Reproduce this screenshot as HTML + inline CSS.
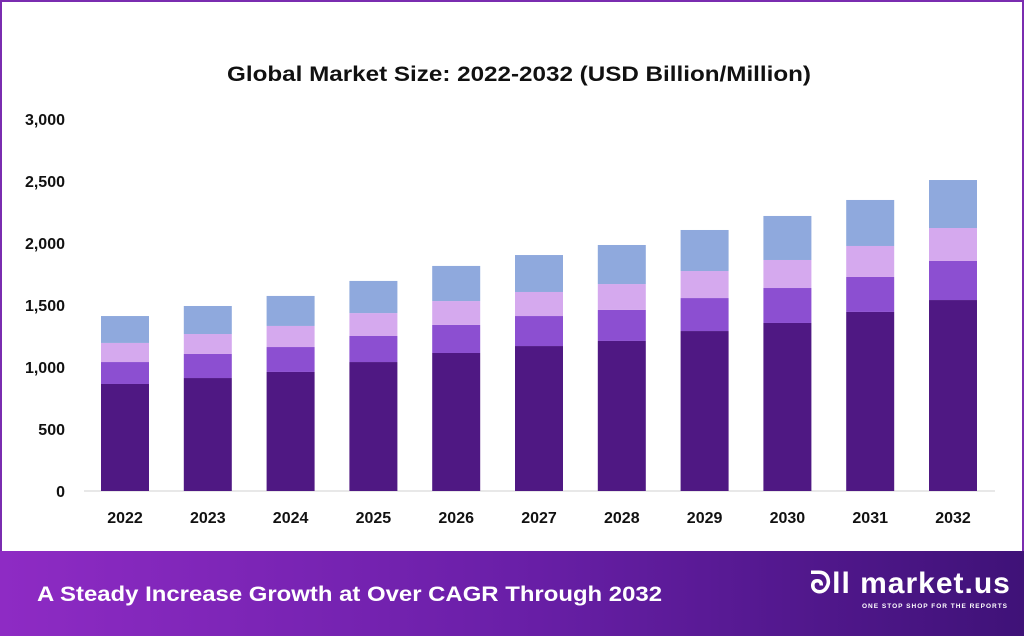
<!DOCTYPE html>
<html><head><meta charset="utf-8"><style>
html,body{margin:0;padding:0;width:1024px;height:636px;overflow:hidden;background:#fff;font-family:"Liberation Sans",sans-serif}
#frame{position:absolute;left:0;top:0;width:1020px;height:550px;border:2px solid #7a2cb0;border-bottom:none;background:#fff}
#banner{position:absolute;left:0;top:551px;width:1024px;height:85px;background:linear-gradient(90deg,#8e2bc4 0%,#6a1fa8 50%,#3f1278 100%)}
</style></head><body>
<div id="frame"></div>
<svg id="chart" width="1024" height="551" style="position:absolute;left:0;top:0">
<text x="227" y="81" textLength="584" lengthAdjust="spacingAndGlyphs" font-size="21" font-weight="bold" fill="#111">Global Market Size: 2022-2032 (USD Billion/Million)</text>
<g id="yaxis"></g>
<line x1="84" y1="491" x2="995" y2="491" stroke="#d0d0d0"/>
<g id="bars"></g>
<g id="xaxis"></g>
</svg>
<div id="banner">
<svg width="1024" height="85" style="position:absolute;left:0;top:0"><text x="37" y="50" textLength="625" lengthAdjust="spacingAndGlyphs" font-size="21" font-weight="bold" fill="#fff">A Steady Increase Growth at Over CAGR Through 2032</text></svg>
<div style="position:absolute;left:810px;top:16px;color:#fff;font-weight:bold;font-size:30px;letter-spacing:1px">ᘐll market.us</div>
<div style="position:absolute;left:862px;top:52px;color:#fff;font-weight:bold;font-size:6.5px;letter-spacing:1px">ONE STOP SHOP FOR THE REPORTS</div>
</div>
<script>
const years=["2022","2023","2024","2025","2026","2027","2028","2029","2030","2031","2032"];
const seg1=[863,911,960,1040,1113,1169,1210,1290,1355,1444,1540];
const seg2=[177,194,201,210,226,242,250,266,282,282,315];
const seg3=[154,161,170,185,193,194,209,218,226,250,266];
const seg4=[217,226,242,259,283,298,315,331,355,371,387];
const yTicks=[0,500,1000,1500,2000,2500,3000];
const tickLabels=["0","500","1,000","1,500","2,000","2,500","3,000"];
const colors=["#4f1883","#8c4fd1","#d5a9ee","#8fa9dd"];
const ns="http://www.w3.org/2000/svg";
const y0=491,k=372/3000;
function y(v){return y0-v*k;}
function x(i){return 125+i*82.8;}
const ya=document.getElementById('yaxis');
yTicks.forEach((t,i)=>{const e=document.createElementNS(ns,'text');


e.setAttribute('x',65);e.setAttribute('y',y(t)+6);e.setAttribute('text-anchor','end');
e.setAttribute('font-size','16');e.setAttribute('font-weight','bold');e.setAttribute('fill','#111');
e.textContent=tickLabels[i];ya.appendChild(e);});
const bg=document.getElementById('bars'),xa=document.getElementById('xaxis');
const series=[seg1,seg2,seg3,seg4];
years.forEach((yr,i)=>{let base=0;
series.forEach((s,j)=>{const r=document.createElementNS(ns,'rect');


r.setAttribute('x',x(i)-24);r.setAttribute('width',48);
r.setAttribute('y',y(base+s[i]));r.setAttribute('height',s[i]*k);r.setAttribute('fill',colors[j]);
bg.appendChild(r);base+=s[i];});
const t=document.createElementNS(ns,'text');


t.setAttribute('x',x(i));t.setAttribute('y',523);t.setAttribute('text-anchor','middle');
t.setAttribute('font-size','16');t.setAttribute('font-weight','bold');t.setAttribute('fill','#111');
t.textContent=yr;xa.appendChild(t);});
</script>
</body></html>
